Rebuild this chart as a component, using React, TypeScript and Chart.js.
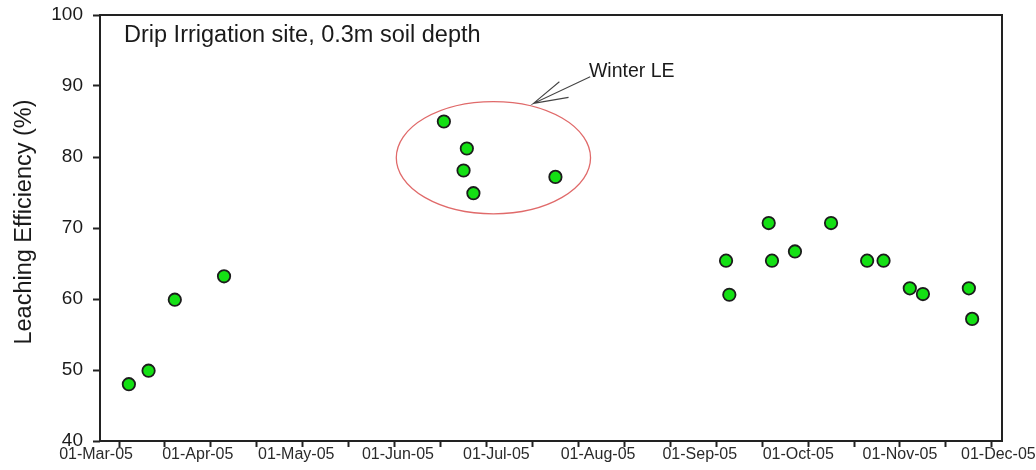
import React, { useEffect, useRef } from 'react';
import { Chart, registerables } from 'chart.js';

Chart.register(...registerables);

// ---- data ----
const SAMPLE_DATES = [
  '2005-03-11', '2005-03-17', '2005-03-25', '2005-04-09',
  '2005-06-15', '2005-06-21', '2005-06-22', '2005-06-24', '2005-07-19',
  '2005-09-09', '2005-09-10', '2005-09-22', '2005-09-23', '2005-09-30',
  '2005-10-11', '2005-10-22', '2005-10-27', '2005-11-04', '2005-11-08',
  '2005-11-22', '2005-11-23',
];
const LEACHING_EFFICIENCY = [
  48.0, 49.9, 59.9, 63.2,
  85.0, 78.1, 81.2, 74.9, 77.2,
  65.4, 60.6, 70.7, 65.4, 66.7,
  70.7, 65.4, 65.4, 61.5, 60.7,
  61.5, 57.2,
];
const MONTH_TICK_DATES = [
  '2005-03-01', '2005-04-01', '2005-05-01', '2005-06-01', '2005-07-01',
  '2005-08-01', '2005-09-01', '2005-10-01', '2005-11-01', '2005-12-01',
];
const MONTH_TICK_LABELS = [
  '01-Mar-05', '01-Apr-05', '01-May-05', '01-Jun-05', '01-Jul-05',
  '01-Aug-05', '01-Sep-05', '01-Oct-05', '01-Nov-05', '01-Dec-05',
];
const MARK_TICK_START = '2005-03-08';
const MARK_TICK_STEP_DAYS = 14;
const MARK_TICK_COUNT = 20;
const X_MIN_DAY = 1.2;
const X_MAX_DAY = 276.1;
const Y_MIN = 40;
const Y_MAX = 100;
const Y_STEP = 10;

const PANEL_TITLE = 'Drip Irrigation site, 0.3m soil depth';
const Y_TITLE = 'Leaching Efficiency (%)';
const NOTE_TEXT = 'Winter LE';
// annotation in data units (day offset from 01-Mar-05, %)
const ELLIPSE_CENTER = { day: 121.1, value: 79.9 };
const ELLIPSE_RADIUS = { days: 29.6, value: 7.9 };
const ARROW_TIP = { day: 133.3, value: 87.55 };
const ARROW_TAIL = { day: 150.6, value: 91.3 };
const ARROW_BARB_1 = { day: 141.2, value: 90.6 };
const ARROW_BARB_2 = { day: 144.0, value: 88.4 };
const NOTE_POS = { day: 150.2, value: 91.2 };

const FONT = "'Liberation Sans', Arial, Helvetica, sans-serif";
const ORIGIN = Date.UTC(2005, 2, 1);
const dayOf = (s: string) => {
  const [y, m, d] = s.split('-').map(Number);
  return Math.round((Date.UTC(y, m - 1, d) - ORIGIN) / 86400000);
};

const MONTH_DAYS = MONTH_TICK_DATES.map(dayOf);
const MARK_DAYS: number[] = [];
for (let i = 0; i < MARK_TICK_COUNT; i++) MARK_DAYS.push(dayOf(MARK_TICK_START) + i * MARK_TICK_STEP_DAYS);
const MARK_SET = new Set(MARK_DAYS);
const X_TICK_VALUES = Array.from(new Set([...MONTH_DAYS, ...MARK_DAYS])).sort((a, b) => a - b);

const annotationPlugin = {
  id: 'annotations',
  afterDraw(chart: any) {
    const { ctx, chartArea, scales } = chart;
    const xs = scales.x;
    const ys = scales.y;
    const px = (d: number) => xs.getPixelForValue(d);
    const py = (v: number) => ys.getPixelForValue(v);
    ctx.save();
    // frame
    ctx.strokeStyle = '#222';
    ctx.lineWidth = 2;
    ctx.strokeRect(chartArea.left, chartArea.top, chartArea.right - chartArea.left, chartArea.bottom - chartArea.top);

    // panel title
    ctx.fillStyle = '#1a1a1a';
    ctx.font = `23.5px ${FONT}`;
    ctx.textAlign = 'left';
    ctx.textBaseline = 'alphabetic';
    ctx.fillText(PANEL_TITLE, chartArea.left + 24, chartArea.top + 26.7);

    // ellipse
    const cx = px(ELLIPSE_CENTER.day);
    const cy = py(ELLIPSE_CENTER.value);
    const rx = px(ELLIPSE_CENTER.day + ELLIPSE_RADIUS.days) - cx;
    const ry = cy - py(ELLIPSE_CENTER.value + ELLIPSE_RADIUS.value);
    ctx.beginPath();
    ctx.ellipse(cx, cy, rx, ry, 0, 0, Math.PI * 2);
    ctx.strokeStyle = '#e06a6a';
    ctx.lineWidth = 1.3;
    ctx.stroke();

    // arrow
    ctx.strokeStyle = '#444';
    ctx.lineWidth = 1.1;
    ctx.beginPath();
    ctx.moveTo(px(ARROW_TAIL.day), py(ARROW_TAIL.value));
    ctx.lineTo(px(ARROW_TIP.day), py(ARROW_TIP.value));
    ctx.lineTo(px(ARROW_BARB_1.day), py(ARROW_BARB_1.value));
    ctx.moveTo(px(ARROW_TIP.day), py(ARROW_TIP.value));
    ctx.lineTo(px(ARROW_BARB_2.day), py(ARROW_BARB_2.value));
    ctx.stroke();

    // note text
    ctx.fillStyle = '#1a1a1a';
    ctx.font = `19.5px ${FONT}`;
    ctx.fillText(NOTE_TEXT, px(NOTE_POS.day), py(NOTE_POS.value));

    // y title
    ctx.translate(31, 222);
    ctx.rotate(-Math.PI / 2);
    ctx.font = `23.5px ${FONT}`;
    ctx.textAlign = 'center';
    ctx.fillStyle = '#1a1a1a';
    ctx.fillText(Y_TITLE, 0, 0);
    ctx.restore();
  },
};

export default function App() {
  const ref = useRef<HTMLCanvasElement | null>(null);
  useEffect(() => {
    if (!ref.current) return;
    const points = SAMPLE_DATES.map((d, i) => ({ x: dayOf(d), y: LEACHING_EFFICIENCY[i] }));
    const chart = new Chart(ref.current, {
      type: 'scatter',
      data: {
        datasets: [
          {
            data: points,
            pointRadius: 6.2,
            pointHoverRadius: 6.2,
            borderWidth: 1.8,
            backgroundColor: '#14e014',
            borderColor: '#1c1c1c',
            showLine: false,
          },
        ],
      },
      options: {
        responsive: false,
        animation: false,
        devicePixelRatio: 1,
        layout: { padding: { left: 0, top: 15, right: 34, bottom: 0 } },
        plugins: {
          legend: { display: false },
          tooltip: { enabled: false },
          title: { display: false },
        },
        scales: {
          x: {
            type: 'linear',
            min: X_MIN_DAY,
            max: X_MAX_DAY,
            afterFit: (s: any) => { s.height = 29; s.paddingLeft = 0; s.paddingRight = 0; },
            afterBuildTicks: (s: any) => { s.ticks = X_TICK_VALUES.map((v) => ({ value: v })); },
            border: { display: false },
            grid: {
              display: true,
              drawOnChartArea: false,
              drawTicks: true,
              tickLength: 6,
              tickWidth: 2,
              color: 'rgba(0,0,0,0)',
              tickColor: (c: any) => (c.tick && MARK_SET.has(c.tick.value) ? '#222' : 'rgba(0,0,0,0)'),
            },
            ticks: {
              autoSkip: false,
              maxRotation: 0,
              minRotation: 0,
              padding: 0,
              color: '#2a2a2a',
              font: { family: FONT, size: 16, lineHeight: 1.0 },
              callback: (v: any) => {
                const idx = MONTH_DAYS.indexOf(Number(v));
                return idx >= 0 ? MONTH_TICK_LABELS[idx] : '';
              },
            },
          },
          y: {
            min: Y_MIN,
            max: Y_MAX,
            afterFit: (s: any) => { s.width = 100; s.paddingTop = 0; s.paddingBottom = 0; },
            border: { display: false },
            grid: {
              display: true,
              drawOnChartArea: false,
              drawTicks: true,
              tickLength: 7,
              tickWidth: 2,
              color: 'rgba(0,0,0,0)',
              tickColor: '#222',
            },
            ticks: {
              stepSize: Y_STEP,
              padding: 10,
              color: '#1a1a1a',
              font: { family: FONT, size: 19 },
            },
          },
        },
      },
      plugins: [annotationPlugin],
    } as any);
    return () => chart.destroy();
  }, []);
  return (
    <div style={{ position: 'fixed', left: 0, top: 0, width: 1036, height: 470, background: '#fff' }}>
      <canvas ref={ref} width={1036} height={470} style={{ display: 'block' }} />
    </div>
  );
}
